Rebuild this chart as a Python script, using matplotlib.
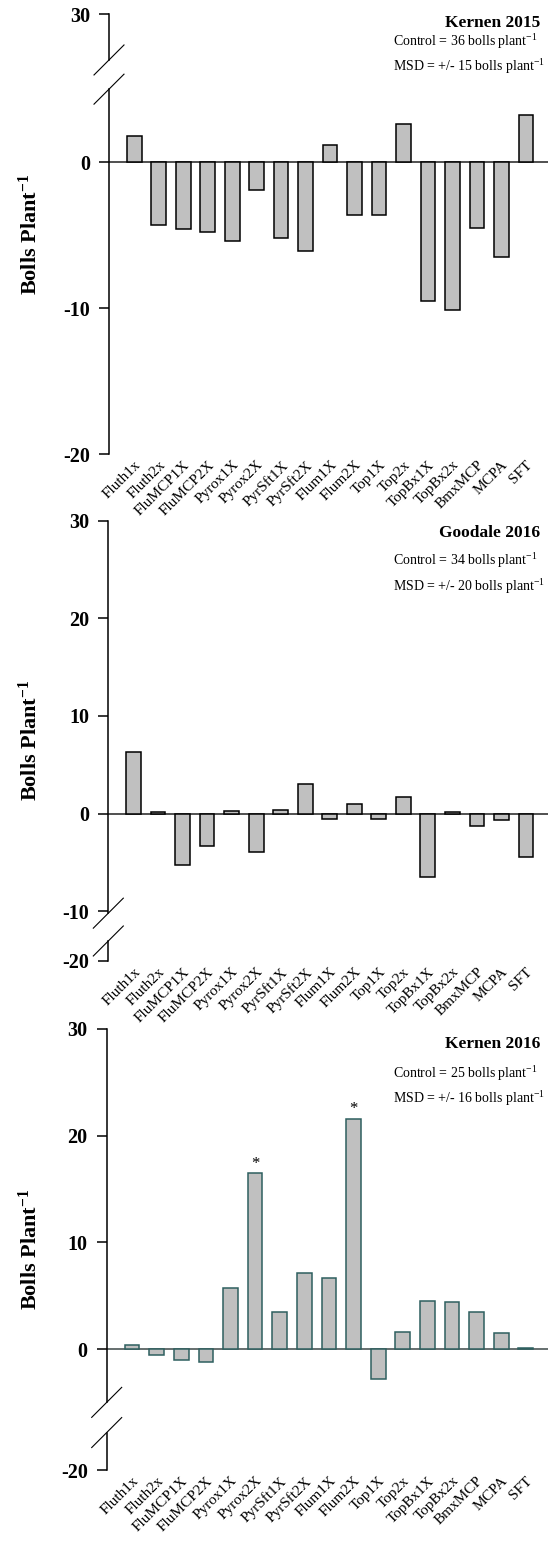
import matplotlib
matplotlib.use('Agg')
import matplotlib.pyplot as plt
import matplotlib.transforms as mtransforms
from matplotlib.lines import Line2D
import numpy as np

plt.rcParams['font.family'] = ['Liberation Serif', 'DejaVu Serif']
plt.rcParams['mathtext.fontset'] = 'custom'
plt.rcParams['mathtext.rm'] = 'Liberation Serif'
plt.rcParams['mathtext.bf'] = 'Liberation Serif:bold'
plt.rcParams['mathtext.it'] = 'Liberation Serif:italic'
plt.rcParams['mathtext.default'] = 'regular'

treatments = ['Fluth1x', 'Fluth2x', 'FluMCP1X', 'FluMCP2X', 'Pyrox1X', 'Pyrox2X',
              'PyrSft1X', 'PyrSft2X', 'Flum1X', 'Flum2X', 'Top1X', 'Top2x',
              'TopBx1X', 'TopBx2x', 'BmxMCP', 'MCPA', 'SFT']

# difference from control, bolls plant-1
kernen15 = [1.8, -4.3, -4.6, -4.8, -5.4, -1.9, -5.2, -6.1, 1.2, -3.6, -3.6, 2.6,
            -9.5, -10.1, -4.5, -6.5, 3.2]
goodale16 = [6.3, 0.2, -5.3, -3.3, 0.3, -3.9, 0.4, 3.0, -0.6, 1.0, -0.6, 1.7,
             -6.5, 0.2, -1.3, -0.65, -4.4]
kernen16 = [0.4, -0.6, -1.0, -1.2, 5.75, 16.5, 3.5, 7.1, 6.7, 21.6, -2.85, 1.55,
            4.5, 4.4, 3.5, 1.5, 0.1]
kernen16_sig = ['Pyrox2X', 'Flum2X']

titles = ['Kernen 2015', 'Goodale 2016', 'Kernen 2016']
controls = [36, 34, 25]
msds = [15, 20, 16]

W, H = 548, 1542
fig = plt.figure(figsize=(W / 100, H / 100), dpi=100)


def add_panel(top, bottom, left, vals, ylim, yticks, yticklabels, gap, edge, text_y, idx, stars=()):
    ax = fig.add_axes([left / W, 1 - bottom / H, 1 - left / W, (bottom - top) / H])
    x = np.arange(len(treatments))
    ax.bar(x, vals, width=0.6, color='#c0c0c0', edgecolor=edge, linewidth=1.1, zorder=3)
    ax.axhline(0, color='#202020' if edge == 'black' else '#3c4848', lw=1.1, zorder=2)
    ax.set_xlim(-1.03, 16.9)
    ax.set_ylim(*ylim)
    for s in ['top', 'right', 'bottom', 'left']:
        ax.spines[s].set_visible(False)
    # broken y axis
    x0 = ax.get_xlim()[0]
    ax.plot([x0, x0], [ylim[0], gap[1]], color='k', lw=1.1, clip_on=False, zorder=4)
    ax.plot([x0, x0], [gap[0], ylim[1]], color='k', lw=1.1, clip_on=False, zorder=4)
    for yb in gap:
        px, py = ax.transData.transform((x0, yb))
        fig.add_artist(Line2D([px - 15, px + 15], [py - 15, py + 15], color='k', lw=0.8,
                              transform=mtransforms.IdentityTransform()))
    ax.set_yticks(yticks)
    ax.set_yticklabels(yticklabels, fontsize=14.5, fontweight='bold')
    ax.tick_params(axis='y', direction='out', length=7.2, width=1.1, pad=6.5)
    ax.set_xticks(x)
    ax.set_xticklabels(treatments, rotation=45, ha='right', rotation_mode='anchor', fontsize=11)
    ax.tick_params(axis='x', length=0, pad=3)
    ax.set_ylabel(r'Bolls Plant$^{\mathbf{-1}}$', fontsize=16, fontweight='bold')
    ax.yaxis.set_label_coords((42 - left) / (W - left), 0.5)
    for name in stars:
        i = treatments.index(name)
        ax.annotate('*', xy=(i, vals[i]), xytext=(0, 1), textcoords='offset points',
                    ha='center', va='bottom', fontsize=12)
    fig.text(540 / W, 1 - text_y[0] / H, titles[idx], ha='right', va='center',
             fontsize=12.5, fontweight='bold')
    fig.text(393 / W, 1 - text_y[1] / H, 'Control = %d bolls plant$^{-1}$' % controls[idx],
             ha='left', va='center', fontsize=10)
    fig.text(393 / W, 1 - text_y[2] / H, 'MSD = +/- %d bolls plant$^{-1}$' % msds[idx],
             ha='left', va='center', fontsize=10)
    return ax


add_panel(14, 454, 109, kernen15, (-20, 10.15), [10.15, 0, -10, -20], ['30', '0', '-10', '-20'],
          (7.0, 5.0), 'black', (22.7, 42, 66.5), 0)
add_panel(520.7, 961, 108.3, goodale16, (-15.1, 30), [30, 20, 10, 0, -10, -15.1],
          ['30', '20', '10', '0', '-10', '-20'], (-10.2, -13.05), 'black', (533.3, 561, 586.5), 1)
add_panel(1029, 1470, 106.7, kernen16, (-11.34, 30), [30, 20, 10, 0, -11.34],
          ['30', '20', '10', '0', '-20'], (-5.0, -7.83), '#2e5f5f', (1044.3, 1074, 1099), 2,
          stars=kernen16_sig)

fig.savefig('out.png', dpi=100)
